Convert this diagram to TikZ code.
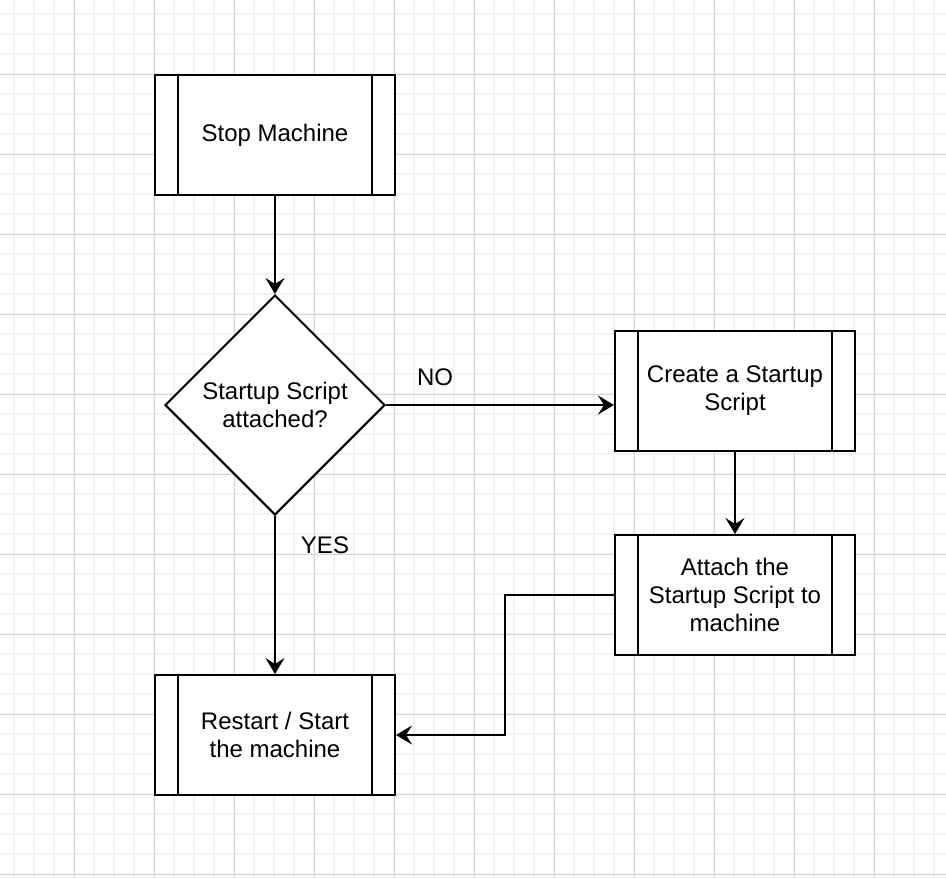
\documentclass[tikz,border=0pt]{standalone}
\usepackage{fontspec}
\setmainfont{Liberation Sans}
\usetikzlibrary{arrows.meta,shapes.geometric}
\definecolor{gridminor}{HTML}{F2F2F2}
\definecolor{gridmajor}{HTML}{D6D6D6}
\tikzset{
  proc/.style={draw, line width=2pt, fill=white, minimum width=240pt, minimum height=120pt,
    inner sep=0pt, align=center, font=\fontsize{24}{28}\selectfont},
  decision/.style={diamond, draw, line width=2pt, fill=white, minimum width=220pt, minimum height=220pt,
    aspect=1, inner sep=0pt, align=center, font=\fontsize{24}{28}\selectfont},
  conn/.style={line width=2pt, -{Stealth[length=16pt,width=19pt,inset=6pt]}},
  lbl/.style={font=\fontsize{24}{28}\selectfont, inner sep=0pt},
}
\newcommand{\sidebars}[1]{%
  \draw[line width=2pt] ([xshift=24pt]#1.north west) -- ([xshift=24pt]#1.south west);
  \draw[line width=2pt] ([xshift=-24pt]#1.north east) -- ([xshift=-24pt]#1.south east);
}
\begin{document}
\begin{tikzpicture}[x=1pt,y=-1pt]
\useasboundingbox (0,0) rectangle (946,878);
\fill[white] (0,0) rectangle (946,878);
% grid
\foreach \i in {14,34,...,946} {
  \draw[gridminor, line width=1.5pt] (\i,0) -- (\i,878);
}
\foreach \j in {14,34,...,878} {
  \draw[gridminor, line width=1.5pt] (0,\j) -- (946,\j);
}
\foreach \i in {74,154,...,946} {
  \draw[gridmajor, line width=1pt] (\i,0) -- (\i,878);
}
\foreach \j in {74,154,...,878} {
  \draw[gridmajor, line width=1pt] (0,\j) -- (946,\j);
}
% nodes
\node[proc] (stop) at (275,135) {Stop Machine};
\node[decision] (dec) at (275,405) {Startup Script\\attached?};
\node[proc] (create) at (735,391) {Create a Startup\\Script};
\node[proc] (attach) at (735,595) {Attach the\\Startup Script to\\machine};
\node[proc] (restart) at (275,735) {Restart / Start\\the machine};
\sidebars{stop}
\sidebars{create}
\sidebars{attach}
\sidebars{restart}
\coordinate (bendx) at (505,0);
% connectors
\draw[conn] (stop.south) -- (dec.north);
\draw[conn] (dec.east) -- (dec.east -| create.west);
\draw[conn] (create.south) -- (attach.north);
\draw[conn] (dec.south) -- (restart.north);
\draw[conn] (attach.west) -- (attach.west -| bendx) |- (restart.east);
% labels
\node[lbl] (nolbl) at (435,377) {NO};
\node[lbl] (yeslbl) at (325,545) {YES};
\end{tikzpicture}
\end{document}
